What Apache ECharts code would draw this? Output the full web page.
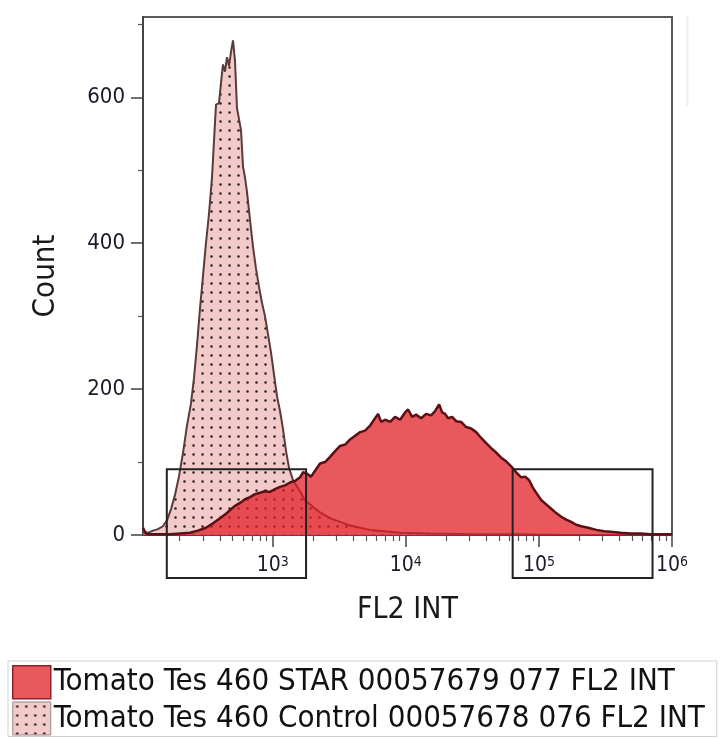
<!DOCTYPE html>
<html><head><meta charset="utf-8">
<script src="https://cdn.jsdelivr.net/npm/echarts@6/dist/echarts.min.js"></script>
<style>html,body{margin:0;padding:0;background:#fff}#c{width:720px;height:738px}</style>
</head><body><div id="c"></div>
<script>
// ---------- data ----------
const seriesNames = ['Tomato Tes 460 STAR 00057679 077 FL2 INT', 'Tomato Tes 460 Control 00057678 076 FL2 INT'];

const starLevels = [106,111.5,119.5,142,169,201,239,274,315,356,402,438,477,521,568,619,675,736,803,875,954,1041,1135,1237,1349,1471,1604,1690,1811,1941,2080,2268,2473,2697,2941,3207,3497,3813,4158,4534,4944,5391,5878,6191,6521,6988,7620,8308,9059,9879,10406,11152,11950,13032,14210,15496,16607,17800,18750,19749,20797,22288,23886,26046,28402,30971,33773,36827,40159,43791,47745,52064,56773,61909,67509,73615,78886,84548,90600,97100,104065,113477,123741,134935,147140,160450,174965,190790,207970,234840,269660,309700,361950,410100,487550,579800,689100,819300,1000000];
const starCounts = [10,2,1,1,1,2,3,6,10,16,23,28,34,40,44,49,52,56,58,60,59,63,66,68,72,74,79,86,84,80,88,98,100,107,115,122,124,131,136,141,143,150,160,166,155,158,155,162,158,168,172,162,165,160,166,164,170,179,168,166,160,162,156,155,148,146,141,133,126,119,113,106,101,94,86,79,80,75,64,56,48,42,36,30,25,21,18,14,12,10,7,5,4,3,2,2,1,1,1];

const controlLevels = [106,115.5,125.9,137.3,149.7,160.5,171.9,184.3,197.4,211.6,226.8,243.1,256.1,269.7,284,299.2,315.1,331.9,349.7,362,374.8,394.8,408.7,423.1,437.9,453.4,469.4,485.9,503,520.6,539,558,577.7,598,619,641,675,711,748.9,788.8,830.8,875.1,921.7,970.9,1022.8,1077.3,1134.7,1195.2,1258.9,1326,1421,1523,1632,1749.5,1907.9,2079.7,2267.8,2473,2696.6,3206.5,3812.7,4533.7,5390.8,6988.3,9059,15496,30971,73615,147140,1000000];
const controlCounts = [4,3,6,8,12,20,35,55,80,112,150,180,215,260,310,355,400,440,490,540,590,592,620,645,635,655,643,662,678,650,585,570,555,505,490,470,432,395,365,340,318,300,275,250,220,190,170,145,115,92,75,66,58,47,42,36,31,27,23,18,13,10,7,5,3,2,1,1,0,0];

const xMajorTicks = [1000, 10000, 100000, 1000000];
const xMinorTicks = [200,300,400,500,600,700,800,900,2000,3000,4000,5000,6000,7000,8000,9000,20000,30000,40000,50000,60000,70000,80000,90000,200000,300000,400000,500000,600000,700000,800000,900000];
const yMajorTicks = [0, 200, 400, 600];
const yMinorTicks = [100, 300, 500, 700];

const gateLow = [160, 63500];
const gateHigh = [1780, 714000];
const gateTop = [90, 90];
const gateBottom = [-59, -59];

// ---------- styling helpers ----------
function dotCanvas(bg, dot) {
  const c = document.createElement('canvas'); c.width = 9; c.height = 9;
  const g = c.getContext('2d'); g.fillStyle = bg; g.fillRect(0, 0, 9, 9);
  g.fillStyle = dot; g.beginPath(); g.arc(4.5, 4.5, 1.25, 0, Math.PI * 2); g.fill();
  return c;
}
const ctrlPattern = { image: dotCanvas('#f3caca', '#2a2222'), repeat: 'repeat' };
const FONT = '"DejaVu Sans Condensed", "DejaVu Sans", sans-serif';

const starData = starLevels.map((v, i) => [v, starCounts[i]]);
const ctrlData = controlLevels.map((v, i) => [v, controlCounts[i]]);
const gateData = gateLow.map((v, i) => [v, gateHigh[i], gateTop[i], gateBottom[i]]);

const chart = echarts.init(document.getElementById('c'), null, { renderer: 'canvas' });
chart.setOption({
  animation: false,
  backgroundColor: '#ffffff',
  textStyle: { fontFamily: FONT },
  grid: { left: 143, right: 48, top: 17, bottom: 203, show: true, borderColor: '#5a5a5a', borderWidth: 2, backgroundColor: 'transparent' },
  xAxis: [{
    type: 'log', logBase: 10, min: 106, max: 1000000,
    name: 'FL2 INT', nameLocation: 'middle', nameGap: 60,
    nameTextStyle: { fontSize: 30, color: '#1a1a1a', fontFamily: FONT },
    axisLine: { show: true, lineStyle: { color: '#444', width: 1.5 } },
    axisTick: { show: true, customValues: xMajorTicks, length: 12, lineStyle: { color: '#444', width: 1.5 } },
    axisLabel: {
      customValues: xMajorTicks, margin: 20, fontSize: 21, color: '#1a1a2a', fontFamily: FONT,
      formatter: v => '10{s|' + Math.round(Math.log10(v)) + '}',
      rich: { s: { fontSize: 14, verticalAlign: 'top', color: '#1a1a2a', fontFamily: FONT, padding: [0, 0, 8, 0] } }
    },
    splitLine: { show: false }
  }, {
    type: 'log', logBase: 10, min: 106, max: 1000000, position: 'bottom',
    axisLine: { show: false },
    axisTick: { show: true, customValues: xMinorTicks, length: 6, lineStyle: { color: '#555', width: 1.2 } },
    axisLabel: { show: false },
    splitLine: { show: false }
  }],
  yAxis: [{
    type: 'value', min: 0, max: 710,
    name: 'Count', nameLocation: 'middle', nameGap: 82, nameRotate: 90,
    nameTextStyle: { fontSize: 31, color: '#1a1a1a', fontFamily: FONT },
    axisLine: { show: true, lineStyle: { color: '#444', width: 2 } },
    axisTick: { show: true, customValues: yMajorTicks, length: 12, lineStyle: { color: '#444', width: 1.5 } },
    axisLabel: { customValues: yMajorTicks, margin: 18, fontSize: 22, color: '#1a1a2a', fontFamily: FONT },
    splitLine: { show: false }
  }, {
    type: 'value', min: 0, max: 710, position: 'left',
    axisLine: { show: false },
    axisTick: { show: true, customValues: yMinorTicks, length: 5, lineStyle: { color: '#555', width: 1.2 } },
    axisLabel: { show: false },
    splitLine: { show: false }
  }],
  legend: {
    orient: 'vertical', left: 8, top: 661, padding: [4, 12, 1, 4],
    borderColor: '#cfcfcf', borderWidth: 1, backgroundColor: '#fff',
    icon: 'rect', itemWidth: 38, itemHeight: 33, itemGap: 2,
    selectedMode: false,
    textStyle: { fontSize: 31, lineHeight: 33, color: '#111', fontFamily: FONT, padding: [0, 0, 0, -2] },
    data: [
      { name: seriesNames[0], itemStyle: { color: '#e8585d', borderColor: '#8a2228', borderWidth: 1.5 } },
      { name: seriesNames[1], itemStyle: { color: ctrlPattern, borderColor: '#9a8a8a', borderWidth: 1 } }
    ]
  },
  series: [{
    name: seriesNames[1], type: 'line', data: ctrlData, xAxisIndex: 0, yAxisIndex: 0,
    symbol: 'none', showSymbol: false, smooth: false, z: 2,
    lineStyle: { color: '#5b3a3a', width: 2 },
    itemStyle: { color: '#5b3a3a' },
    areaStyle: { color: ctrlPattern, opacity: 1 }
  }, {
    name: seriesNames[0], type: 'line', data: starData, xAxisIndex: 0, yAxisIndex: 0,
    symbol: 'none', showSymbol: false, smooth: false, z: 3,
    lineStyle: { color: '#5a1014', width: 2.5 },
    itemStyle: { color: '#e8585d' },
    areaStyle: { color: 'rgba(224,32,39,0.75)', opacity: 1 }
  }, {
    name: 'gates', type: 'custom', data: gateData, xAxisIndex: 0, yAxisIndex: 0, z: 5,
    encode: { x: [0, 1], y: [2, 3] },
    renderItem: (params, api) => {
      const p0 = api.coord([api.value(0), api.value(2)]);
      const p1 = api.coord([api.value(1), api.value(3)]);
      return {
        type: 'rect',
        shape: { x: p0[0], y: p0[1], width: p1[0] - p0[0], height: p1[1] - p0[1] },
        style: { fill: 'none', stroke: '#222', lineWidth: 2 }
      };
    }
  }],
  graphic: [{
    type: 'line', shape: { x1: 687.5, y1: 16, x2: 687.5, y2: 106 },
    style: { stroke: '#ececec', lineWidth: 2 }, silent: true
  }]
});
</script>
</body></html>
